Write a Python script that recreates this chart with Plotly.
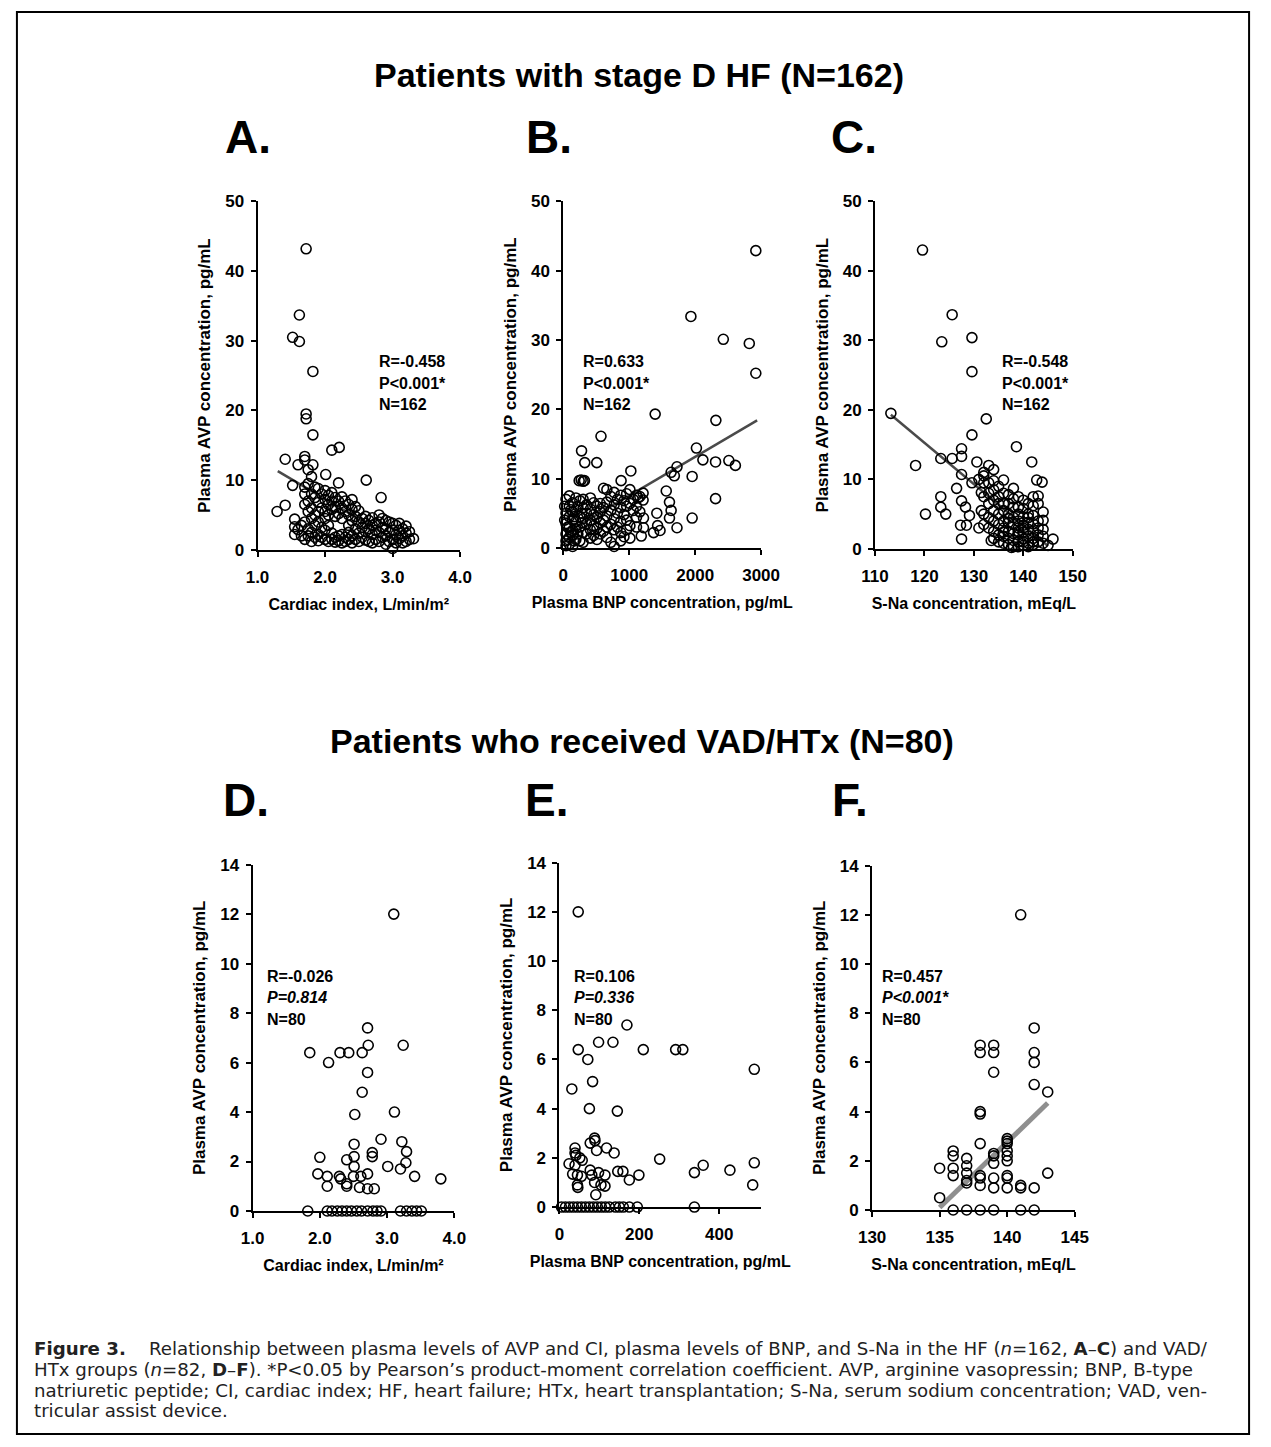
import plotly.graph_objects as go

W, H = 1271, 1447

# ---------------- DATA ----------------
# Panel A: cardiac index vs AVP (stage D HF)
A_ci = [1.72, 1.62, 1.52, 1.62, 1.82, 1.72, 1.72, 1.82, 2.10, 2.21, 1.41, 1.60, 1.70, 1.70, 1.82, 2.01, 2.61, 2.83, 2.20, 1.29, 1.41, 1.52, 3.31,
        1.55, 1.55, 1.55, 1.60, 1.65, 1.65,
        1.70, 1.70, 1.70, 1.70, 1.70,
        1.75, 1.75, 1.75, 1.75, 1.75, 1.75,
        1.80, 1.80, 1.80, 1.80, 1.80, 1.80,
        1.85, 1.85, 1.85, 1.85, 1.85,
        1.90, 1.90, 1.90, 1.90, 1.90, 1.90,
        1.95, 1.95, 1.95, 1.95,
        2.00, 2.00, 2.00, 2.00, 2.00, 2.00,
        2.05, 2.05, 2.05, 2.05, 2.05,
        2.10, 2.10, 2.10, 2.10, 2.10,
        2.15, 2.15, 2.15, 2.15, 2.15,
        2.20, 2.20, 2.20, 2.20,
        2.25, 2.25, 2.25, 2.25, 2.25,
        2.30, 2.30, 2.30, 2.30,
        2.35, 2.35, 2.35, 2.35, 2.35,
        2.40, 2.40, 2.40, 2.40, 2.40,
        2.45, 2.45, 2.45, 2.45,
        2.50, 2.50, 2.50, 2.50,
        2.55, 2.55, 2.55,
        2.60, 2.60, 2.60, 2.60,
        2.65, 2.65, 2.65,
        2.70, 2.70, 2.70, 2.70,
        2.75, 2.75, 2.75,
        2.80, 2.80, 2.80, 2.80,
        2.85, 2.85, 2.85,
        2.90, 2.90, 2.90, 2.90,
        2.95, 2.95, 2.95,
        3.00, 3.00, 3.00, 3.00,
        3.05, 3.05, 3.05,
        3.10, 3.10, 3.10,
        3.15, 3.15, 3.15,
        3.20, 3.20, 3.20,
        3.25, 3.25]
A_avp = [43.2, 33.7, 30.5, 29.9, 25.6, 19.5, 18.8, 16.5, 14.3, 14.7, 13.0, 12.2, 13.4, 12.9, 12.2, 10.8, 10.0, 7.5, 9.6, 5.5, 6.4, 9.25, 1.6,
         4.4, 3.3, 2.2, 2.9, 3.5, 2.0,
         9.0, 8.0, 6.5, 4.0, 1.5,
         11.5, 9.5, 7.0, 5.5, 3.0, 2.0,
         10.5, 8.0, 6.0, 4.5, 2.5, 1.2,
         9.0, 7.5, 5.0, 3.5, 1.8,
         8.8, 6.8, 5.5, 4.0, 2.2, 1.3,
         8.0, 6.0, 3.2, 1.8,
         8.5, 7.2, 5.5, 4.5, 2.8, 1.5,
         7.8, 6.5, 5.0, 3.5, 1.2,
         8.2, 7.0, 5.8, 2.4, 1.5,
         7.5, 6.2, 4.8, 1.8, 1.1,
         7.0, 5.2, 2.0, 1.3,
         7.6, 6.0, 4.5, 2.2, 1.0,
         7.0, 5.5, 1.8, 1.2,
         6.5, 5.0, 3.5, 2.5, 1.5,
         7.2, 5.8, 4.2, 2.0, 1.0,
         6.2, 4.8, 3.0, 1.5,
         5.6, 4.0, 2.4, 1.2,
         4.5, 3.2, 1.8,
         4.8, 3.8, 2.6, 1.4,
         4.2, 3.0, 1.2,
         4.6, 3.5, 2.2, 1.0,
         3.8, 2.8, 1.5,
         5.0, 4.0, 2.5, 1.2,
         4.5, 3.2, 1.8,
         4.2, 3.0, 2.0, 0.8,
         4.0, 2.5, 1.2,
         3.8, 2.8, 1.5, 0.2,
         3.5, 2.2, 1.0,
         3.8, 2.8, 1.6,
         3.0, 2.0, 1.0,
         3.4, 2.4, 1.2,
         2.6, 1.5]
A_fit_x = [1.30, 3.10]
A_fit_y = [11.3, 1.0]
A_stats = ["R=-0.458", "P<0.001*", "N=162"]

# Panel B: BNP vs AVP (stage D HF)
B_bnp = [2920, 1935, 2427, 2821, 2920, 1393, 2314, 571, 276, 2019, 325, 507, 1024, 2117, 2309, 2511, 2610, 1635, 1724, 1684,
         1954, 2309, 1954, 876, 1418, 1561, 1610, 1635, 1610, 1724, 1369, 1467, 1430, 1216, 1216, 1182, 1133, 240, 270, 300, 320,
         40, 40, 40, 40, 40, 40,
         90, 90, 90, 90, 90, 90,
         140, 140, 140, 140, 140, 140,
         190, 190, 190, 190, 190,
         250, 250, 250, 250,
         300, 300, 300, 300, 300,
         350, 350, 350, 350,
         410, 410, 410, 410, 410,
         460, 460, 460, 460,
         510, 510, 510, 510,
         560, 560, 560, 560,
         610, 610, 610, 610,
         660, 660, 660, 660, 660,
         720, 720, 720, 720,
         770, 770, 770, 770, 770,
         820, 820, 820,
         870, 870, 870, 870, 870,
         920, 920, 920,
         960, 960, 960, 960,
         1010, 1010, 1010, 1010,
         1060, 1060,
         1110, 1110, 1110, 1110,
         1160, 1160,
         1210, 1210,
         20, 20, 65, 65, 115, 115, 165, 165, 220, 220, 280, 280]
B_avp = [42.9, 33.4, 30.1, 29.5, 25.2, 19.3, 18.4, 16.1, 14.0, 14.4, 12.3, 12.3, 11.1, 12.7, 12.4, 12.6, 11.9, 10.9, 11.7, 10.4,
         10.3, 7.1, 4.3, 9.7, 5.0, 8.2, 6.6, 5.4, 4.3, 2.9, 2.2, 2.5, 3.2, 4.3, 2.9, 1.7, 7.2, 9.7, 9.8, 9.6, 9.7,
         7.0, 5.0, 3.5, 2.0, 1.0, 0.3,
         7.5, 6.0, 4.5, 3.0, 1.5, 0.5,
         6.5, 5.2, 4.0, 2.5, 1.8, 0.2,
         7.2, 5.5, 3.8, 2.8, 1.2,
         6.8, 4.5, 3.0, 1.0,
         7.0, 5.8, 4.2, 2.2, 0.8,
         6.2, 5.0, 3.5, 2.0,
         7.2, 5.6, 4.0, 2.6, 1.4,
         6.5, 4.8, 3.2, 1.8,
         6.0, 4.4, 2.8, 1.2,
         6.4, 5.2, 3.6, 2.0,
         8.6, 5.8, 4.0, 2.4,
         8.4, 6.6, 4.6, 3.0, 1.5,
         7.4, 5.4, 3.4, 0.8,
         8.0, 6.2, 4.2, 2.6, 0.2,
         7.0, 5.0, 3.0,
         7.6, 5.8, 3.8, 2.2, 1.0,
         6.8, 4.8, 1.6,
         7.8, 6.0, 4.0, 2.6,
         8.4, 6.4, 3.2, 1.4,
         7.0, 5.4,
         7.6, 6.0, 4.4, 3.0,
         7.4, 5.2,
         7.9, 6.9,
         6.0, 4.0, 3.0, 1.2, 5.5, 2.2, 4.5, 1.0, 6.0, 2.0, 5.0, 3.6]
B_fit_x = [30, 2940]
B_fit_y = [2.1, 18.4]
B_stats = ["R=0.633", "P<0.001*", "N=162"]

# Panel C: S-Na vs AVP (stage D HF)
C_na = [119.6, 125.6, 123.5, 129.6, 129.6, 113.2, 132.5, 129.6, 138.6, 127.5, 127.5, 123.3, 125.6, 118.2, 130.6, 127.5, 129.6, 126.5,
        123.3, 123.3, 124.3, 120.2, 127.5, 128.3, 129.1, 128.5, 127.3, 127.5, 133.5, 131.5, 131.5, 141.7, 142.7, 143.8, 146.0, 137.6,
        132, 132, 132, 132, 132, 132,
        133, 133, 133, 133, 133, 133,
        134, 134, 134, 134, 134, 134, 134, 134,
        135, 135, 135, 135, 135, 135, 135,
        136, 136, 136, 136, 136, 136, 136, 136, 136,
        137, 137, 137, 137, 137, 137, 137, 137,
        138, 138, 138, 138, 138, 138, 138, 138,
        139, 139, 139, 139, 139, 139, 139, 139, 139,
        140, 140, 140, 140, 140, 140, 140, 140, 140,
        141, 141, 141, 141, 141, 141, 141, 141,
        142, 142, 142, 142, 142, 142, 142, 142,
        143, 143, 143, 143, 143, 143,
        144, 144, 144, 144, 144,
        145, 131, 131]
C_avp = [43.0, 33.7, 29.8, 30.4, 25.5, 19.5, 18.7, 16.4, 14.7, 14.4, 13.3, 13.0, 13.0, 12.0, 12.5, 10.7, 9.5, 8.7,
         7.5, 6.0, 5.0, 5.0, 6.9, 6.0, 4.8, 3.4, 3.4, 1.4, 1.2, 5.5, 8.1, 12.5, 9.9, 9.6, 1.4, 0.2,
         11.0, 10.5, 9.5, 7.5, 5.0, 3.5,
         12.0, 9.5, 8.0, 6.5, 4.5, 3.0,
         11.4, 9.8, 8.5, 7.0, 5.5, 4.0, 2.5, 1.5,
         9.0, 7.5, 6.5, 5.0, 3.5, 2.0, 1.0,
         9.9, 8.0, 6.5, 5.5, 4.0, 3.0, 2.4, 1.8, 0.8,
         7.8, 6.5, 5.0, 4.4, 3.8, 2.5, 1.5, 0.6,
         8.7, 7.2, 6.0, 4.5, 3.5, 2.2, 1.2, 0.3,
         7.5, 6.0, 5.0, 4.0, 3.0, 2.5, 2.0, 1.0, 0.3,
         7.0, 5.8, 4.6, 3.4, 3.0, 2.4, 1.4, 1.0, 0.5,
         6.5, 5.0, 4.5, 3.8, 2.8, 1.8, 0.8, 0.3,
         7.5, 6.2, 4.8, 3.6, 2.5, 1.5, 1.0, 0.6,
         7.6, 6.5, 4.0, 3.0, 2.0, 1.0,
         5.3, 4.1, 2.8, 1.8, 0.8,
         0.5, 10.0, 3.0]
C_fit_x = [113.2, 145.0]
C_fit_y = [19.3, 0.4]
C_stats = ["R=-0.548", "P<0.001*", "N=162"]

# Panel D: cardiac index vs AVP (VAD/HTx)
D_ci = [3.10, 1.85, 2.13, 2.30, 2.43, 2.63, 2.71, 2.72, 2.71, 2.63, 2.52, 3.24, 3.11, 2.91, 3.22, 3.29, 3.28, 3.20, 3.01, 2.78,
        2.78, 2.51, 2.51, 2.51, 2.40, 2.00, 1.97, 2.11, 2.11, 2.29, 2.31, 2.40, 2.40, 2.50, 2.59, 2.61, 2.71, 2.71, 2.81, 3.41,
        3.80, 4.02,
        1.82, 2.11, 2.18, 2.26, 2.33, 2.40, 2.47, 2.55, 2.62, 2.71, 2.79, 2.85, 2.91, 3.20, 3.29, 3.37, 3.44, 3.51]
D_avp = [12.0, 6.4, 6.0, 6.4, 6.4, 6.4, 7.4, 6.7, 5.6, 4.8, 3.9, 6.7, 4.0, 2.9, 2.8, 2.4, 1.95, 1.7, 1.8, 2.36,
         2.2, 2.7, 2.2, 1.8, 2.07, 2.17, 1.5, 1.4, 1.0, 1.4, 1.3, 1.1, 1.0, 1.4, 0.95, 1.4, 1.5, 0.9, 0.9, 1.4,
         1.3, 0.5,
         0, 0, 0, 0, 0, 0, 0, 0, 0, 0, 0, 0, 0, 0, 0, 0, 0, 0]
D_stats = ["R=-0.026", "P=0.814", "N=80"]

# Panel E: BNP vs AVP (VAD/HTx)
E_bnp = [47, 47, 31, 71, 83, 75, 98, 134, 169, 210, 291, 309, 488, 145, 88, 89, 77, 93, 118, 137,
         39, 39, 41, 24, 33, 39, 51, 57, 45, 45, 46, 55, 77, 81, 88, 91, 98, 104, 114, 114,
         146, 159, 175, 199, 251, 338, 360, 427, 488, 484,
         5, 15, 25, 35, 45, 55, 65, 75, 85, 95, 105, 115, 125, 140, 150, 160, 175, 195, 338]
E_avp = [12.0, 6.4, 4.8, 6.0, 5.1, 4.0, 6.7, 6.7, 7.4, 6.4, 6.4, 6.4, 5.6, 3.9, 2.8, 2.7, 2.6, 2.3, 2.4, 2.2,
         2.4, 2.2, 2.1, 1.76, 1.34, 1.7, 2.0, 1.9, 1.3, 0.9, 0.8, 1.25, 1.5, 1.3, 1.0, 0.5, 1.4, 0.9, 0.85, 1.3,
         1.45, 1.45, 1.1, 1.3, 1.95, 1.4, 1.7, 1.5, 1.8, 0.9,
         0, 0, 0, 0, 0, 0, 0, 0, 0, 0, 0, 0, 0, 0, 0, 0, 0, 0, 0]
E_stats = ["R=0.106", "P=0.336", "N=80"]

# Panel F: S-Na vs AVP (VAD/HTx)
F_na = [135, 135,
        136, 136, 136, 136, 136,
        137, 137, 137, 137, 137, 137,
        138, 138, 138, 138, 138, 138, 138, 138, 138,
        139, 139, 139, 139, 139, 139, 139, 139, 139,
        140, 140, 140, 140, 140, 140, 140, 140, 140,
        141, 141, 141, 141,
        142, 142, 142, 142, 142, 142,
        143, 143]
F_avp = [1.7, 0.5,
         2.4, 2.2, 1.7, 1.4, 0,
         2.1, 1.8, 1.5, 1.2, 1.1, 0,
         6.7, 6.4, 4.0, 3.9, 2.7, 1.4, 1.3, 1.0, 0,
         6.7, 6.4, 5.6, 2.3, 2.2, 1.9, 1.3, 0.9, 0,
         2.9, 2.8, 2.7, 2.4, 2.2, 2.0, 1.4, 1.3, 0.9,
         12.0, 1.0, 0.9, 0,
         7.4, 6.4, 6.0, 5.1, 0.9, 0,
         4.8, 1.5]
F_fit_x = [135.0, 143.0]
F_fit_y = [0.1, 4.35]
F_stats = ["R=0.457", "P<0.001*", "N=80"]

# Tick values / labels
CI_TICKS = [1, 2, 3, 4]
CI_LABELS = ["1.0", "2.0", "3.0", "4.0"]
BNP_HF_TICKS = [0, 1000, 2000, 3000]
BNP_HF_LABELS = ["0", "1000", "2000", "3000"]
NA_HF_TICKS = [110, 120, 130, 140, 150]
NA_HF_LABELS = ["110", "120", "130", "140", "150"]
BNP_VAD_TICKS = [0, 200, 400]
BNP_VAD_LABELS = ["0", "200", "400"]
NA_VAD_TICKS = [130, 135, 140, 145]
NA_VAD_LABELS = ["130", "135", "140", "145"]
AVP_HF_TICKS = [0, 10, 20, 30, 40, 50]
AVP_VAD_TICKS = [0, 2, 4, 6, 8, 10, 12, 14]

TITLE_TOP = "Patients with stage D HF (N=162)"
TITLE_BOTTOM = "Patients who received VAD/HTx (N=80)"
Y_TITLE = "Plasma AVP concentration, pg/mL"
CAPTION = [
    "<b>Figure 3.</b>    Relationship between plasma levels of AVP and CI, plasma levels of BNP, and S-Na in the HF (<i>n</i>=162, <b>A</b>–<b>C</b>) and VAD/",
    "HTx groups (<i>n</i>=82, <b>D</b>–<b>F</b>). *P&lt;0.05 by Pearson’s product-moment correlation coefficient. AVP, arginine vasopressin; BNP, B-type",
    "natriuretic peptide; CI, cardiac index; HF, heart failure; HTx, heart transplantation; S-Na, serum sodium concentration; VAD, ven-",
    "tricular assist device.",
]

# ---------------- FIGURE ----------------
FONT = "Liberation Sans, Arial, Helvetica, sans-serif"
CAPTION_FONT = "DejaVu Sans, Verdana, sans-serif"
CAPTION_SIZE = 18.2
CAPTION_STEP = 21.2

def fx(px):
    return px / W

def fy(py):
    return 1 - py / H

panels = [
    dict(x=A_ci, y=A_avp, fitx=A_fit_x, fity=A_fit_y, fit="top", xpx=(250, 458), ypx=(195, 548), xr=[1, 4], yr=[0, 50],
         xtv=CI_TICKS, xtt=CI_LABELS, ytv=AVP_HF_TICKS, xtitle="Cardiac index, L/min/m²", stats=A_stats, spos=(373, 357),
         letter="A.", lpos=(240, 130), ital=False, row=0),
    dict(x=B_bnp, y=B_avp, fitx=B_fit_x, fity=B_fit_y, fit="top", xpx=(564, 767), ypx=(195, 546), xr=[0, 3000], yr=[0, 50],
         xtv=BNP_HF_TICKS, xtt=BNP_HF_LABELS, ytv=AVP_HF_TICKS, xtitle="Plasma BNP concentration, pg/mL", stats=B_stats,
         spos=(582, 357), letter="B.", lpos=(549, 130), ital=False, row=0),
    dict(x=C_na, y=C_avp, fitx=C_fit_x, fity=C_fit_y, fit="top", xpx=(884, 1087), ypx=(195, 547), xr=[110, 150], yr=[0, 50],
         xtv=NA_HF_TICKS, xtt=NA_HF_LABELS, ytv=AVP_HF_TICKS, xtitle="S-Na concentration, mEq/L", stats=C_stats,
         spos=(1012, 357), letter="C.", lpos=(862, 130), ital=False, row=0),
    dict(x=D_ci, y=D_avp, fitx=None, fity=None, fit=None, xpx=(245, 452), ypx=(867, 1218), xr=[1, 4], yr=[0, 14],
         xtv=CI_TICKS, xtt=CI_LABELS, ytv=AVP_VAD_TICKS, xtitle="Cardiac index, L/min/m²", stats=D_stats, spos=(258, 980),
         letter="D.", lpos=(238, 802), ital=True, row=1),
    dict(x=E_bnp, y=E_avp, fitx=None, fity=None, fit=None, xpx=(560, 767), ypx=(865, 1214), xr=[0, 505], yr=[0, 14],
         xtv=BNP_VAD_TICKS, xtt=BNP_VAD_LABELS, ytv=AVP_VAD_TICKS, xtitle="Plasma BNP concentration, pg/mL", stats=E_stats,
         spos=(573, 980), letter="E.", lpos=(547, 802), ital=True, row=1),
    dict(x=F_na, y=F_avp, fitx=F_fit_x, fity=F_fit_y, fit="bottom", xpx=(881, 1089), ypx=(868, 1217), xr=[130, 145], yr=[0, 14],
         xtv=NA_VAD_TICKS, xtt=NA_VAD_LABELS, ytv=AVP_VAD_TICKS, xtitle="S-Na concentration, mEq/L", stats=F_stats,
         spos=(889, 980), letter="F.", lpos=(858, 802), ital=True, row=1),
]

fig = go.Figure()
layout = dict(
    width=W, height=H, margin=dict(l=0, r=0, t=0, b=0, pad=0), paper_bgcolor="white", plot_bgcolor="white",
    showlegend=False, font=dict(family=FONT, color="black"),
)
annotations = []

for i, p in enumerate(panels, start=1):
    xa = "x" if i == 1 else f"x{i}"
    ya = "y" if i == 1 else f"y{i}"
    if p["fit"] is not None:
        if p["fit"] == "top":
            fl = dict(color="#4a4a4a", width=2.5)
        else:
            fl = dict(color="#8f8f8f", width=5)
        fig.add_trace(go.Scatter(x=p["fitx"], y=p["fity"], mode="lines", line=fl, xaxis=xa, yaxis=ya,
                                 hoverinfo="skip", cliponaxis=False))
    fig.add_trace(go.Scatter(
        x=p["x"], y=p["y"], mode="markers", xaxis=xa, yaxis=ya, cliponaxis=False,
        marker=dict(symbol="circle-open", size=10, color="black", line=dict(width=1.6)),
    ))
    axis_common = dict(showline=True, linecolor="black", linewidth=2, ticks="outside", ticklen=5, tickwidth=2,
                       tickcolor="black", showgrid=False, zeroline=False,
                       tickfont=dict(family=FONT, size=17, color="black", weight="bold"))
    layout["xaxis" if i == 1 else f"xaxis{i}"] = dict(
        domain=[fx(p["xpx"][0]), fx(p["xpx"][1])], range=p["xr"], anchor=ya,
        tickvals=p["xtv"], ticktext=p["xtt"], ticklabelstandoff=6,
        title=dict(text=p["xtitle"], font=dict(family=FONT, size=16, color="black", weight="bold"),
                   standoff=13 if p["row"] == 0 else 12),
        **axis_common)
    layout["yaxis" if i == 1 else f"yaxis{i}"] = dict(
        domain=[fy(p["ypx"][1]), fy(p["ypx"][0])], range=p["yr"], anchor=xa,
        tickvals=p["ytv"], ticktext=[str(v) for v in p["ytv"]], ticklabelstandoff=3,
        title=dict(text=Y_TITLE, font=dict(family=FONT, size=17, color="black", weight="bold"), standoff=10),
        **axis_common)
    # stats text
    sx, sy = p["spos"]
    for k, line in enumerate(p["stats"]):
        txt = line.replace("<", "&lt;")
        if p["ital"] and k == 1:
            txt = "<i>" + txt + "</i>"
        annotations.append(dict(text=txt, x=fx(sx), y=fy(sy + 22 * k), xref="paper", yref="paper",
                                xanchor="left", yanchor="middle", showarrow=False,
                                font=dict(family=FONT, size=16, color="black", weight="bold")))
    # panel letter
    lx, ly = p["lpos"]
    annotations.append(dict(text=p["letter"], x=fx(lx), y=fy(ly), xref="paper", yref="paper",
                            xanchor="center", yanchor="middle", showarrow=False,
                            font=dict(family=FONT, size=46, color="black", weight="bold")))

annotations.append(dict(text=TITLE_TOP, x=fx(642), y=fy(67), xref="paper", yref="paper", showarrow=False,
                        xanchor="center", yanchor="middle",
                        font=dict(family=FONT, size=34, color="black", weight="bold")))
annotations.append(dict(text=TITLE_BOTTOM, x=fx(645), y=fy(742), xref="paper", yref="paper", showarrow=False,
                        xanchor="center", yanchor="middle",
                        font=dict(family=FONT, size=34, color="black", weight="bold")))

for k, line in enumerate(CAPTION):
    annotations.append(dict(text=line, x=fx(20), y=fy(1357 + CAPTION_STEP * k), xref="paper", yref="paper",
                            showarrow=False, xanchor="left", yanchor="middle", borderpad=0,
                            font=dict(family=CAPTION_FONT, size=CAPTION_SIZE, color="#222222")))

layout["annotations"] = annotations
layout["shapes"] = [dict(type="rect", xref="paper", yref="paper", x0=fx(3), x1=fx(1268), y0=fy(1444), y1=fy(3),
                         line=dict(color="black", width=2), fillcolor="rgba(0,0,0,0)")]

fig.update_layout(**layout)
fig.write_html("out.html")
